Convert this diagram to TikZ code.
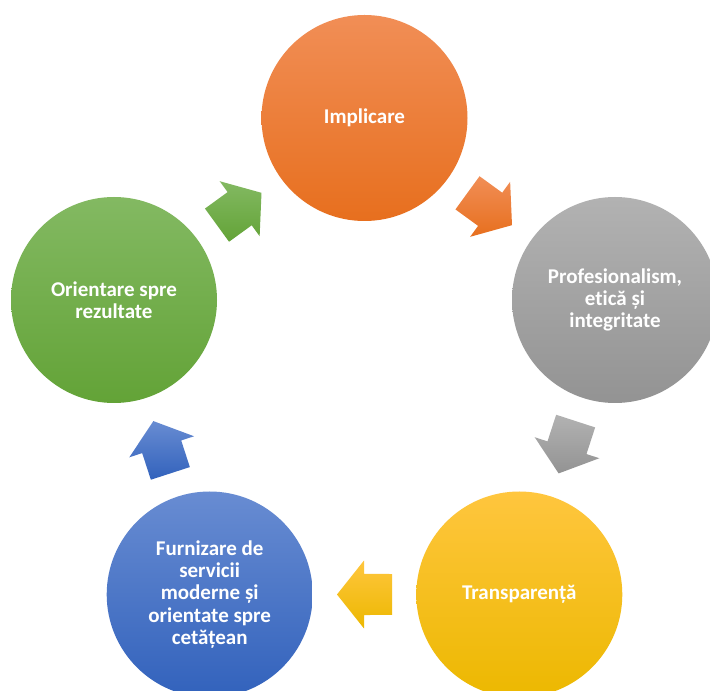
\documentclass[tikz,border=0pt]{standalone}
\usepackage{fontspec}
\setmainfont{Carlito}[Ligatures=NoCommon]
\usetikzlibrary{calc}
\definecolor{orT}{RGB}{241,142,86}
\definecolor{orB}{RGB}{231,111,30}
\definecolor{grT}{RGB}{178,178,178}
\definecolor{grB}{RGB}{147,147,147}
\definecolor{yeT}{RGB}{255,198,62}
\definecolor{yeB}{RGB}{236,184,0}
\definecolor{blT}{RGB}{104,140,210}
\definecolor{blB}{RGB}{50,98,188}
\definecolor{gnT}{RGB}{131,185,98}
\definecolor{gnB}{RGB}{99,163,55}
% block arrow from circle #1 towards circle #2, placed midway
\newcommand\cycarrow[4]{%
  \coordinate (#1-#2) at ($(#1.center)!0.5!(#2.center)$);
  \shade[top color=#3, bottom color=#4]
    ($(#1-#2)!34.30pt!216.70:(#2.center)$) --
    ($(#1-#2)!20.51pt!271.40:(#2.center)$) --
    ($(#1-#2)!34.00pt!270.84:(#2.center)$) --
    ($(#1-#2)!27.50pt!0:(#2.center)$) --
    ($(#1-#2)!34.00pt!89.16:(#2.center)$) --
    ($(#1-#2)!20.51pt!88.60:(#2.center)$) --
    ($(#1-#2)!34.30pt!143.30:(#2.center)$) -- cycle;
}
\begin{document}
\begin{tikzpicture}[x=1pt,y=1pt,
  stage/.style={circle, minimum size=206pt, inner sep=0pt, align=center,
    text=white, font=\fontsize{21}{22.3}\selectfont\bfseries}]
\useasboundingbox (0,0) rectangle (710,691);
\fill[white] (0,0) rectangle (710,691);
\node[stage, top color=orT, bottom color=orB] (impl) at (364.5,573.0) {Implicare};
\node[stage, top color=grT, bottom color=grB] (prof) at (615.0,391.0) {Profesionalism,\\etică și\\integritate};
\node[stage, top color=yeT, bottom color=yeB] (trans) at (519.3,96.5) {Transparență};
\node[stage, top color=blT, bottom color=blB] (furn) at (209.7,96.5) {Furnizare de\\servicii\\moderne și\\orientate spre\\cetățean};
\node[stage, top color=gnT, bottom color=gnB] (orient) at (114.0,391.0) {Orientare spre\\rezultate};
\cycarrow{impl}{prof}{orT}{orB}
\cycarrow{prof}{trans}{grT}{grB}
\cycarrow{trans}{furn}{yeT}{yeB}
\cycarrow{furn}{orient}{blT}{blB}
\cycarrow{orient}{impl}{gnT}{gnB}
\end{tikzpicture}
\end{document}
